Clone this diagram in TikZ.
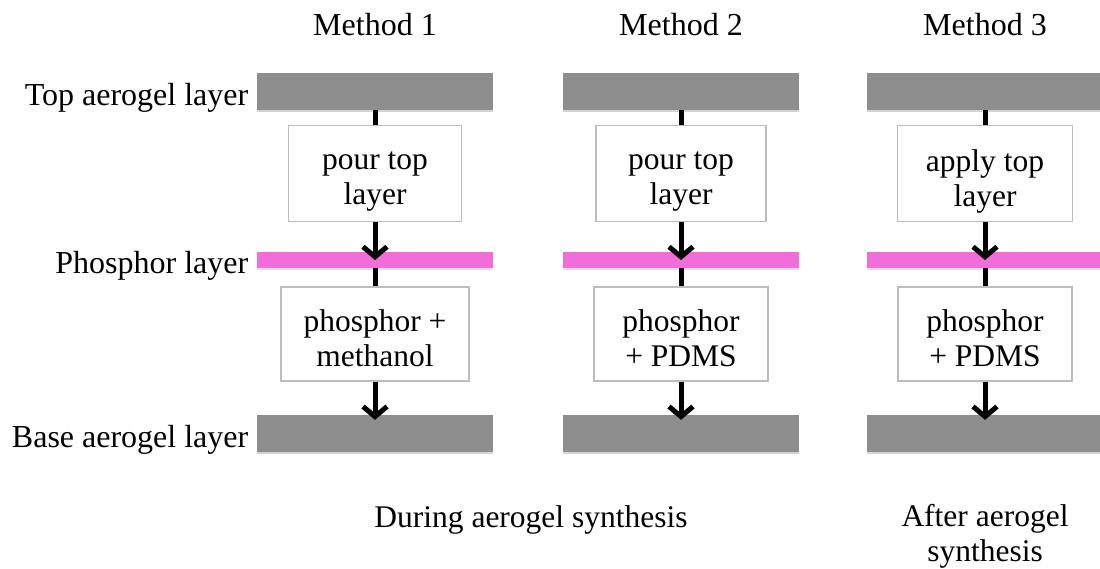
\documentclass[tikz,border=0pt]{standalone}
\usepackage{fontspec}
\setmainfont{Liberation Serif}
\usetikzlibrary{arrows.meta,positioning,shadows}
\definecolor{aerogel}{HTML}{8E8E8E}
\definecolor{phosphor}{HTML}{F26DD9}
\definecolor{stepline}{HTML}{BDBDBD}
\tikzset{%
    >={Straight Barb[length=10pt,width=24pt]}
}

\begin{document}
\begin{tikzpicture}[x=1pt,y=-1pt,
    every node/.style={font=\fontsize{31.5}{35}\selectfont},
    aerogelbar/.style={fill=aerogel,minimum width=236pt,minimum height=37pt,inner sep=0pt,
        drop shadow={shadow xshift=0pt,shadow yshift=-2pt,opacity=0.35}},
    phosphorbar/.style={fill=phosphor,minimum width=236pt,minimum height=16pt,inner sep=0pt,
        drop shadow={shadow xshift=0pt,shadow yshift=-2pt,opacity=0.25}},
    stepbox/.style={draw=stepline,line width=1.5pt,fill=white,minimum height=96pt,inner sep=0pt},
    steptext/.style={align=center,inner sep=0pt},
    layername/.style={font=\fontsize{32}{37}\selectfont,yshift=-6pt},
    flow/.style={line width=5pt}]
    \useasboundingbox (0,0) rectangle (1100,569);
    \clip (0,0) rectangle (1100,569);

    % three columns
    \foreach \i/\cx/\wa/\wb/\txa/\txb in {%
        1/375/173pt/188pt/{pour top\\layer}/{phosphor +\\methanol},
        2/681/170pt/174pt/{pour top\\layer}/{phosphor\\+ PDMS},
        3/985/175pt/174pt/{apply top\\layer}/{phosphor\\+ PDMS}} {
        \node[font=\fontsize{32}{37}\selectfont] (meth\i) at (\cx,25) {Method \i};
        \node[aerogelbar] (top\i) at (\cx,91.5) {};
        \node[phosphorbar] (pho\i) at (\cx,260) {};
        \node[aerogelbar] (base\i) at (\cx,433.5) {};
        \node[stepbox,minimum width=\wa] (pour\i) at (\cx,173.5) {};
        \node[stepbox,minimum width=\wb,minimum height=94pt] (mix\i) at (\cx,334) {};
        \node[steptext] (pourtxt\i) at ([yshift=-8pt]pour\i.center) {\txa};
        \node[steptext] (mixtxt\i) at ([yshift=-4pt]mix\i.center) {\txb};
        \draw[flow] (top\i) -- (pour\i);
        \draw[flow,->] (pour\i) -- (pho\i.center);
        \draw[flow] (pho\i) -- (mix\i);
        \draw[flow,->] (mix\i) -- ([yshift=-5pt]base\i.north);
    }

    % layer names
    \node[layername,left=5pt of top1] (toplbl) {Top aerogel layer};
    \node[layername,left=5pt of pho1] (pholbl) {Phosphor layer};
    \node[layername,left=5pt of base1] (baselbl) {Base aerogel layer};

    % captions
    \node (during) at (531,520) {During aerogel synthesis};
    \node[align=center] (after) at (985,536) {After aerogel\\synthesis};
\end{tikzpicture}
\end{document}
